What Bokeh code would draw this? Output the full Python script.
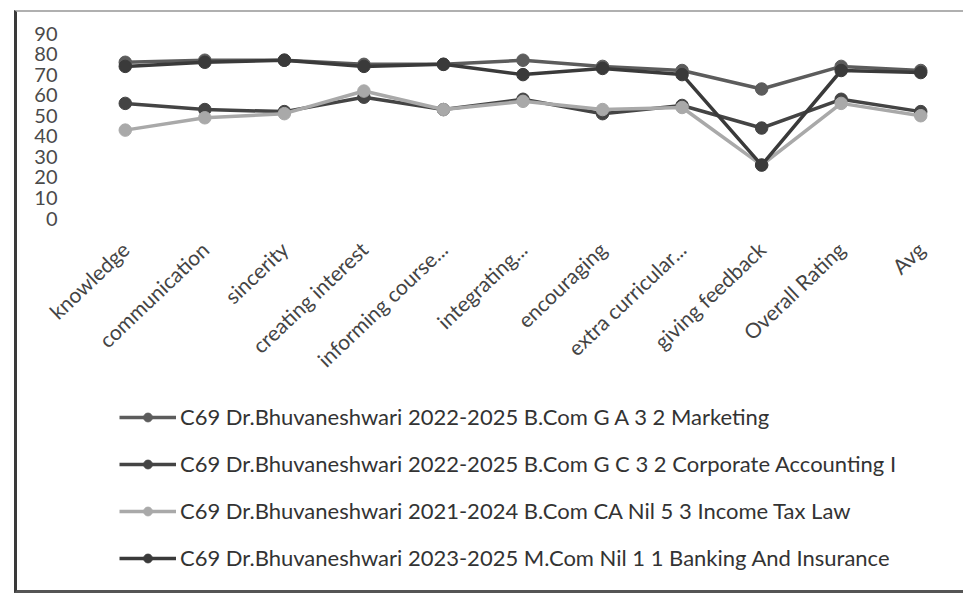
from bokeh.plotting import figure
from bokeh.layouts import column
from bokeh.models import Legend, LegendItem, FixedTicker, ColumnDataSource
from bokeh.embed import file_html
from bokeh.resources import INLINE

categories = ["knowledge", "communication", "sincerity", "creating interest",
              "informing course...", "integrating...", "encouraging",
              "extra curricular...", "giving feedback", "Overall Rating", "Avg"]

series_names = [
    "C69 Dr.Bhuvaneshwari 2022-2025 B.Com G A 3 2 Marketing",
    "C69 Dr.Bhuvaneshwari 2022-2025 B.Com G C 3 2 Corporate Accounting I",
    "C69 Dr.Bhuvaneshwari 2021-2024 B.Com CA Nil 5 3 Income Tax Law",
    "C69 Dr.Bhuvaneshwari 2023-2025 M.Com Nil 1 1 Banking And Insurance",
]

marketing = [76, 77, 77, 75, 75, 77, 74, 72, 63, 74, 72]
corporate_accounting = [56, 53, 52, 59, 53, 58, 51, 55, 44, 58, 52]
income_tax_law = [43, 49, 51, 62, 53, 57, 53, 54, 26, 56, 50]
banking = [74, 76, 77, 74, 75, 70, 73, 70, 26, 72, 71]

y_ticks = [0, 10, 20, 30, 40, 50, 60, 70, 80, 90]

colors = ["#5c5c5c", "#444444", "#a9a9a9", "#3a3a3a"]
values = [marketing, corporate_accounting, income_tax_law, banking]

FONT = "Lato"
W = 946

p = figure(x_range=categories, y_range=(0, 90), width=W, height=378,
           output_backend="svg", toolbar_location=None,
           min_border_left=68, min_border_right=3, min_border_top=21,
           min_border_bottom=172)
p.outline_line_color = None
p.xgrid.grid_line_color = None
p.ygrid.grid_line_color = None

p.yaxis.ticker = FixedTicker(ticks=y_ticks)
p.yaxis.axis_line_color = None
p.yaxis.major_tick_line_color = None
p.yaxis.minor_tick_line_color = None
p.yaxis.major_label_text_font = FONT
p.yaxis.major_label_text_font_size = "20px"
p.yaxis.major_label_text_color = "#4a4a4a"
p.yaxis.major_label_standoff = 22

p.xaxis.axis_line_color = None
p.xaxis.major_tick_line_color = None
p.xaxis.major_label_orientation = 0.76
p.xaxis.major_label_text_font = FONT
p.xaxis.major_label_text_font_size = "21px"
p.xaxis.major_label_text_color = "#444444"
p.xaxis.major_label_standoff = 21

for name, vals, col in zip(series_names, values, colors):
    src = ColumnDataSource(dict(x=categories, y=vals))
    p.line("x", "y", source=src, line_color=col, line_width=3.5)
    p.scatter("x", "y", source=src, size=12.5, fill_color=col, line_color=col)

# legend panel: a figure without axes that only holds the legend
lp = figure(width=W, height=200, output_backend="svg", toolbar_location=None,
            x_range=(0, 1), y_range=(0, 1),
            x_axis_location=None, y_axis_location=None,
            min_border_left=0, min_border_right=0, min_border_top=0, min_border_bottom=0)
lp.grid.visible = False
lp.outline_line_color = None
items = []
for name, col in zip(series_names, colors):
    src = ColumnDataSource(dict(x=[-5.0], y=[-5.0]))
    l1 = lp.line("x", "y", source=src, line_color=col, line_width=3.5)
    l2 = lp.scatter("x", "y", source=src, size=11, fill_color=col, line_color=col)
    items.append(LegendItem(label=name, renderers=[l1, l2]))

legend = Legend(items=items, location=(34, 19),
                label_text_font=FONT, label_text_font_size="22px",
                label_text_color="#333333", label_standoff=4,
                glyph_width=57, glyph_height=22, label_height=22,
                spacing=20, padding=0, margin=0,
                border_line_color=None, background_fill_alpha=0)
lp.add_layout(legend, "center")

layout = column(p, lp, spacing=0)
layout.margin = (10, 0, 0, 14)
layout.styles = {"border-left": "3px solid #3a3a3a", "border-top": "2px solid #b0b0b0",
                 "border-bottom": "3px solid #555555"}

open("out.html", "w").write(file_html(layout, INLINE))
